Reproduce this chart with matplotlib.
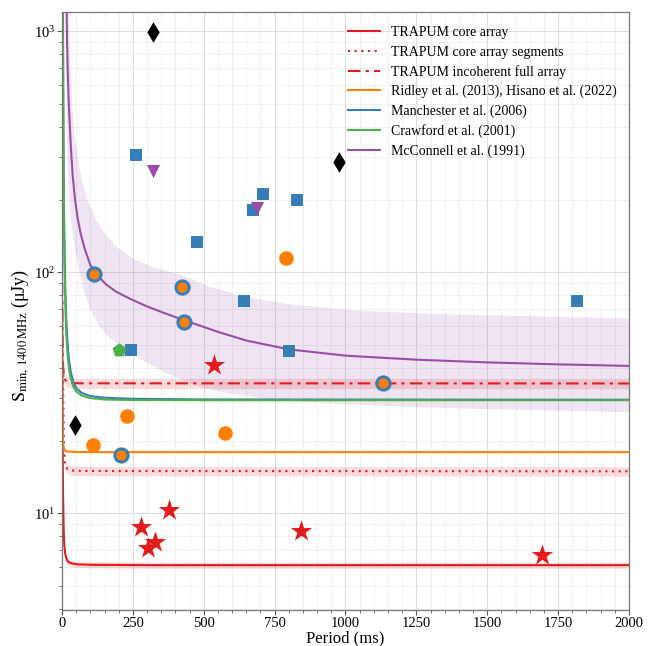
import numpy as np
import matplotlib
matplotlib.use("Agg")
import matplotlib.pyplot as plt
from matplotlib.ticker import MultipleLocator, LogLocator, NullFormatter

plt.rcParams['font.family'] = ['Liberation Serif', 'DejaVu Serif']
plt.rcParams['mathtext.fontset'] = 'stix'

# ---------------- colours ----------------
C_RED = '#e41a1c'
C_BLUE = '#377eb8'
C_GREEN = '#4daf4a'
C_PURPLE = '#984ea3'
C_ORANGE = '#ff7f00'

# ---------------- sensitivity curves ----------------
core_P = [0.6, 1, 1.5, 2, 3, 4, 6, 8, 11, 15, 20, 30, 50, 100, 300, 1000, 2000]
core_S = [75, 45, 30, 22.5, 15, 11.5, 8.5, 7.4, 6.8, 6.5, 6.3, 6.2, 6.13, 6.1, 6.08, 6.08, 6.08]
core_frac = 0.03

seg_P = [4, 5, 6, 7, 8, 10, 13, 17, 25, 40, 80, 2000]
seg_S = [40, 28, 22, 19, 17.5, 16.2, 15.6, 15.3, 15.1, 15.0, 14.95, 14.9]
seg_frac = 0.045

inc_P = [1, 1.5, 2, 3, 4, 6, 8, 12, 18, 30, 60, 2000]
inc_S = [90, 65, 55, 45, 41, 38, 36.8, 35.6, 35.0, 34.7, 34.55, 34.5]
inc_frac = 0.05

ridley_P = [0.5, 1, 1.5, 2, 3, 4, 6, 8, 12, 20, 40, 100, 2000]
ridley_S = [60, 35, 27, 23.5, 20.5, 19.5, 18.7, 18.4, 18.15, 18.0, 17.95, 17.9, 17.9]

manch_P = [3.5, 4, 5, 6, 7, 8, 10, 12, 15, 20, 25, 30, 40, 50, 70, 100, 150, 250, 500, 2000]
manch_S = [1300, 800, 400, 260, 190, 150, 105, 82, 64, 50, 43, 39, 35, 33, 31.5, 30.6, 30.1, 29.8, 29.6, 29.5]

craw_P = [3, 3.5, 4, 5, 6, 7, 8, 10, 12, 15, 20, 25, 30, 40, 50, 70, 100, 150, 250, 500, 2000]
craw_S = [1300, 800, 550, 320, 220, 165, 130, 92, 72, 56, 45, 39.5, 36.5, 33.5, 32, 30.7, 30.0, 29.6, 29.45, 29.4, 29.4]

mcc_P = [15.5, 16.5, 18, 20, 23, 27, 32, 38, 46, 55, 65, 80, 100, 125, 155, 190, 240, 300, 370,
         450, 550, 650, 800, 1000, 1250, 1500, 1750, 2000]
mcc_S = [1500, 1200, 900, 700, 540, 420, 320, 250, 200, 168, 146, 125, 107, 97, 89, 83, 77.5, 72, 67,
         62, 56.5, 52, 47.8, 45, 43.3, 42.2, 41.4, 40.8]

mcc_hi_P = [22, 25, 30, 36, 45, 55, 70, 90, 120, 150, 200, 260, 330, 424, 520, 640, 800, 1016,
            1250, 1474, 1750, 2000]
mcc_hi_S = [1500, 1000, 700, 500, 370, 300, 240, 200, 165, 145, 125, 112, 104, 97, 87, 79, 73.5,
            69.5, 67.5, 66.3, 65.2, 64.3]

mcc_lo_P = [13, 14, 15, 16.5, 18, 20, 23, 27, 32, 41, 55, 75, 100, 130, 170, 235, 300, 370, 450,
            550, 700, 850, 1000, 1250, 1500, 1750, 2000]
mcc_lo_S = [1500, 900, 620, 450, 360, 290, 230, 190, 165, 136, 108, 85, 70, 60, 53, 47, 42, 38,
            34.5, 32, 30, 29, 28.3, 27.5, 27, 26.6, 26.2]

# ---------------- known pulsars ----------------
star_P = [535, 279, 376, 303, 329, 842, 1693]
star_S = [41.1, 8.73, 10.3, 7.14, 7.6, 8.45, 6.7]

sq_P = [261, 476, 243, 641, 673, 709, 828, 801, 1817]
sq_S = [306, 133, 47.4, 76, 181, 210, 200, 47.0, 75.9]

tri_P = [321, 689]
tri_S = [262, 184]

bo_P = [114, 424, 431, 1132, 207]
bo_S = [98.4, 86.7, 62.1, 34.6, 17.35]

oc_P = [790, 229, 110, 574]
oc_S = [114.3, 25.4, 19.1, 21.5]

dia_P = [322, 976, 47]
dia_S = [993, 286, 23.1]

pent_P = [200]
pent_S = [47.4]

labels = ['TRAPUM core array', 'TRAPUM core array segments', 'TRAPUM incoherent full array',
          'Ridley et al. (2013), Hisano et al. (2022)', 'Manchester et al. (2006)',
          'Crawford et al. (2001)', 'McConnell et al. (1991)']

# ---------------- figure ----------------
fig = plt.figure(figsize=(6.49, 6.46), dpi=100)
ax = fig.add_axes([0.0955, 0.0557, 0.8736, 0.9257])
ax.set_yscale('log')

# McConnell band
band_x = sorted(set(mcc_hi_P) | set(mcc_lo_P))
hi_on = np.interp(band_x, mcc_hi_P, mcc_hi_S, left=1e5)
lo_on = np.interp(band_x, mcc_lo_P, mcc_lo_S)
ax.fill_between(band_x, lo_on, hi_on, color=C_PURPLE, alpha=0.15, lw=0)

# TRAPUM bands
for P, S, f in [(core_P, core_S, core_frac), (seg_P, seg_S, seg_frac), (inc_P, inc_S, inc_frac)]:
    S = np.array(S)
    ax.fill_between(P, S * (1 - f), S * (1 + f), color=C_RED, alpha=0.15, lw=0)

lw = 1.5
ax.plot(core_P, core_S, color=C_RED, lw=lw, label=labels[0])
ax.plot(seg_P, seg_S, color=C_RED, lw=lw, ls=(0, (1, 2.2)), label=labels[1])
ax.plot(inc_P, inc_S, color=C_RED, lw=lw, ls=(0, (6, 2.5, 1.5, 2.5)), label=labels[2])
ax.plot(ridley_P, ridley_S, color=C_ORANGE, lw=lw, label=labels[3])
ax.plot(manch_P, manch_S, color=C_BLUE, lw=lw, label=labels[4])
ax.plot(craw_P, craw_S, color=C_GREEN, lw=lw, label=labels[5])
ax.plot(mcc_P, mcc_S, color=C_PURPLE, lw=lw, label=labels[6])

# markers
ax.scatter(sq_P, sq_S, marker='s', s=80, color=C_BLUE, zorder=5, lw=0)
ax.scatter(tri_P, tri_S, marker='v', s=90, color=C_PURPLE, zorder=6, lw=0)
ax.scatter(bo_P, bo_S, marker='o', s=90, facecolor=C_ORANGE, edgecolor=C_BLUE, lw=2.2, zorder=6)
ax.scatter(oc_P, oc_S, marker='o', s=110, color=C_ORANGE, zorder=5, lw=0)
ax.scatter(dia_P, dia_S, marker='d', s=110, color='black', zorder=5, lw=0)
ax.scatter(pent_P, pent_S, marker='p', s=110, color=C_GREEN, zorder=5, lw=0)
ax.scatter(star_P, star_S, marker='*', s=260, color=C_RED, zorder=6, lw=0)

ax.set_xlim(0, 2000)
ax.set_ylim(3.96, 1200)
ax.xaxis.set_major_locator(MultipleLocator(250))
ax.xaxis.set_minor_locator(MultipleLocator(50))
ax.yaxis.set_minor_locator(LogLocator(base=10, subs=np.arange(2, 10)))
ax.yaxis.set_minor_formatter(NullFormatter())
ax.grid(True, which='major', color='#dddddd', lw=0.8)
ax.grid(True, which='minor', color='#eeeeee', lw=0.6)
ax.set_axisbelow(True)
for sp in ax.spines.values():
    sp.set_color('#777777')
    sp.set_linewidth(0.9)
ax.tick_params(which='both', colors='#555555', labelcolor='black', labelsize=10.5, pad=1.5)
ax.tick_params(which='major', length=3.5)
ax.tick_params(which='minor', length=2)

ax.set_xlabel('Period (ms)', fontsize=12, labelpad=0)
ax.set_ylabel(r'$\mathrm{S_{min,\,1400\,MHz}}$ (μJy)', fontsize=13)
ax.yaxis.set_label_coords(-0.055, 0.46)

ax.legend(loc='upper right', bbox_to_anchor=(1.0, 0.997), frameon=False, fontsize=10,
          handlelength=2.3, labelspacing=0.45, borderaxespad=0.5)

fig.savefig('out.png', dpi=100)
